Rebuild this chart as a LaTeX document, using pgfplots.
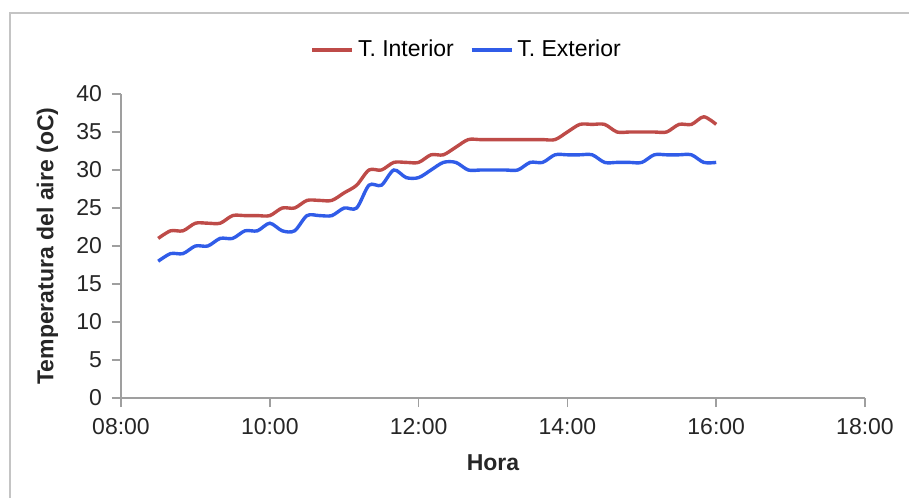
\documentclass[border=0pt]{standalone}
\usepackage{pgfplots}
\pgfplotsset{compat=1.18}
\usepackage{fontspec}
\setmainfont{Liberation Sans}
\definecolor{interior}{RGB}{190,75,72}
\definecolor{exterior}{RGB}{48,92,232}
\definecolor{framegray}{RGB}{196,196,196}
\begin{document}
\begin{tikzpicture}
\path[use as bounding box] (-60.5pt,-50pt) rectangle (394pt,199pt);
\draw[framegray, line width=1.2pt] (-55.5pt,-50pt) -- (-55.5pt,192.5pt) -- (394pt,192.5pt);
\begin{axis}[
  scale only axis, width=372pt, height=152pt,
  xmin=8, xmax=18, ymin=0, ymax=40,
  axis lines=left, axis line style={gray!75, line width=0.8pt, -},
  xtick={8,10,12,14,16,18},
  xticklabels={08:00,10:00,12:00,14:00,16:00,18:00},
  ytick={0,5,...,40},
  tick align=outside, major tick length=4.5pt,
  tick style={gray!75, line width=0.8pt},
  ticklabel style={font=\fontsize{11.5}{13}\selectfont, text=black!85},
  xticklabel style={yshift=-2pt},
  yticklabel style={xshift=-1.5pt},
  /pgf/number format/assume math mode=true,
  xlabel={Hora}, ylabel={Temperatura del aire (oC)},
  label style={font=\fontsize{11.5}{13}\selectfont\bfseries, text=black!85},
  xlabel style={at={(axis description cs:0.5,-0.2138)}, anchor=center},
  ylabel style={at={(axis description cs:-0.0988,0.5)}, anchor=center},
  legend style={at={(axis description cs:0.466,1.145)}, anchor=center,
    draw=none, fill=none, legend columns=2,
    font=\fontsize{11.5}{13}\selectfont,
    /tikz/every even column/.append style={column sep=6pt}},
  legend image code/.code={\draw[#1] (0pt,0pt) -- (20pt,0pt);},
]
% T. Interior
\addplot[interior, line width=1.7pt, smooth, mark=none] coordinates {
  (8.500,21) (8.667,22) (8.833,22) (9.000,23) (9.167,23) (9.333,23)
  (9.500,24) (9.667,24) (9.833,24) (10.000,24) (10.167,25) (10.333,25)
  (10.500,26) (10.667,26) (10.833,26) (11.000,27) (11.167,28) (11.333,30)
  (11.500,30) (11.667,31) (11.833,31) (12.000,31) (12.167,32) (12.333,32)
  (12.500,33) (12.667,34) (12.833,34) (13.000,34) (13.167,34) (13.333,34)
  (13.500,34) (13.667,34) (13.833,34) (14.000,35) (14.167,36) (14.333,36)
  (14.500,36) (14.667,35) (14.833,35) (15.000,35) (15.167,35) (15.333,35)
  (15.500,36) (15.667,36) (15.833,37) (16.000,36)
};
\addlegendentry{T. Interior}
% T. Exterior
\addplot[exterior, line width=1.7pt, smooth, mark=none] coordinates {
  (8.500,18) (8.667,19) (8.833,19) (9.000,20) (9.167,20) (9.333,21)
  (9.500,21) (9.667,22) (9.833,22) (10.000,23) (10.167,22) (10.333,22)
  (10.500,24) (10.667,24) (10.833,24) (11.000,25) (11.167,25) (11.333,28)
  (11.500,28) (11.667,30) (11.833,29) (12.000,29) (12.167,30) (12.333,31)
  (12.500,31) (12.667,30) (12.833,30) (13.000,30) (13.167,30) (13.333,30)
  (13.500,31) (13.667,31) (13.833,32) (14.000,32) (14.167,32) (14.333,32)
  (14.500,31) (14.667,31) (14.833,31) (15.000,31) (15.167,32) (15.333,32)
  (15.500,32) (15.667,32) (15.833,31) (16.000,31)
};
\addlegendentry{T. Exterior}
\end{axis}
\end{tikzpicture}
\end{document}
